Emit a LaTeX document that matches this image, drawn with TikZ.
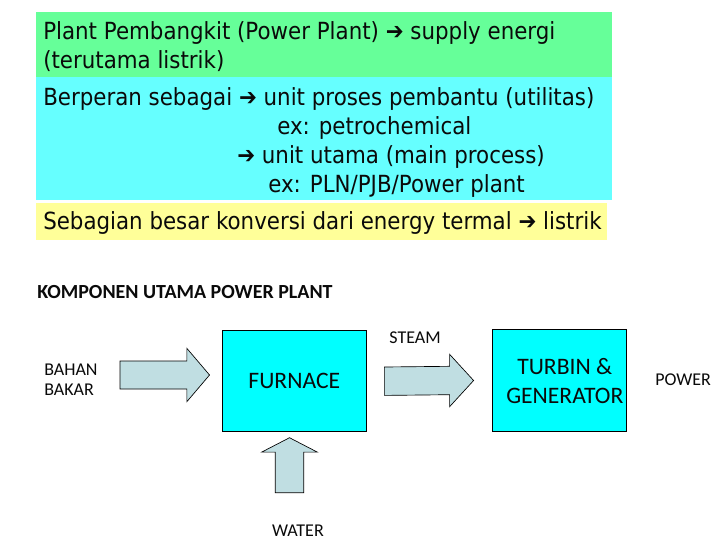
\documentclass[tikz,border=0pt]{standalone}
\usepackage{fontspec}
\usetikzlibrary{calc}
\setmainfont{Carlito}
\newfontfamily\tah[FakeStretch=0.905]{DejaVu Sans}
\definecolor{bandgreen}{RGB}{102,255,153}
\definecolor{bandcyan}{RGB}{102,255,255}
\definecolor{bandyellow}{RGB}{255,255,153}
\definecolor{boxcyan}{RGB}{0,255,255}
\definecolor{arrowfill}{RGB}{192,222,226}
\definecolor{txt}{RGB}{10,10,10}
\tikzset{
  band/.style={anchor=north west, inner sep=0pt, draw=none},
  topline/.style={anchor=base west, inner sep=0pt, font=\tah\fontsize{17.7}{20}\selectfont, text=txt},
  lbl/.style={inner sep=0pt, font=\fontsize{13.5}{15}\selectfont, text=txt},
  blockbox/.style={draw=black, line width=0.6pt, fill=boxcyan, inner sep=0pt, align=center, font=\fontsize{17.7}{21.8}\selectfont, text=txt},
  fatarrow/.style={draw=black, line width=0.5pt, fill=arrowfill, line join=miter}
}
\begin{document}
\begin{tikzpicture}[x=0.75pt,y=-0.75pt]
\useasboundingbox (0,0) rectangle (720,540);
\fill[white] (0,0) rectangle (720,540);
% bands
\node[band, fill=bandgreen, minimum width=432pt, minimum height=48.75pt] (gband) at (36,12) {};
\node[band, fill=bandcyan, minimum width=432pt, minimum height=92.25pt] (cband) at (36,77) {};
\node[band, fill=bandyellow, minimum width=428pt, minimum height=27.75pt] (yband) at (36,203) {};
% band texts
\node[topline] (t1) at (43,39) {Plant Pembangkit (Power Plant) ➔ supply energi};
\node[topline] (t2) at (43,68) {(terutama listrik)};
\node[topline] (t3) at (43,105) {Berperan sebagai ➔ unit proses pembantu (utilitas)};
\node[topline] (t4) at (277,134) {ex: petrochemical};
\node[topline] (t5) at (237,163) {➔ unit utama (main process)};
\node[topline] (t6) at (268,192) {ex: PLN/PJB/Power plant};
\node[topline] (t7) at (43,229) {Sebagian besar konversi dari energy termal ➔ listrik};
% heading
\node[anchor=base west, inner sep=0pt, font=\bfseries\fontsize{15}{18}\selectfont, text=txt] (head) at (37,298) {KOMPONEN UTAMA POWER PLANT};
% blocks
\node[blockbox, minimum width=107.5pt, minimum height=75.75pt] (furnace) at (294.3,381.2) {FURNACE};
\node[blockbox, minimum width=100.8pt, minimum height=76.8pt] (turbin) at (559.5,380.5) {};
\node[inner sep=0pt, align=center, font=\fontsize{17.7}{21.8}\selectfont, text=txt] (turbintxt) at (564.8,381.3) {TURBIN \&\\GENERATOR};
% labels
\node[lbl, anchor=west, align=left] (bahan) at (44,380) {BAHAN\\BAKAR};
\node[lbl] (steam) at (415,338) {STEAM};
\node[lbl, anchor=west] (power) at (655,380) {POWER};
\node[lbl] (water) at (298,531) {WATER};
% fat arrows
\coordinate (a1s) at (120,375);
\coordinate (a1t) at ($(furnace.west)+(-12.7,-6.2)$);
\draw[fatarrow] ($(a1s)+(0,-14)$) -- ($(a1t)+(-22.7,-14)$) -- ($(a1t)+(-22.7,-26.7)$) -- (a1t)
  -- ($(a1t)+(-22.7,26.7)$) -- ($(a1t)+(-22.7,14)$) -- ($(a1s)+(0,14)$) -- cycle;
\coordinate (a2s) at ($(furnace.east)+(18,0)$);
\coordinate (a2t) at ($(turbin.west)+(-18.3,0)$);
\draw[fatarrow] ($(a2s)+(0,-14.2)$) -- ($(a2t)+(-24,-14.2)$) -- ($(a2t)+(-24,-26.2)$) -- (a2t)
  -- ($(a2t)+(-24,26.2)$) -- ($(a2t)+(-24,14.2)$) -- ($(a2s)+(0,14.2)$) -- cycle;
\coordinate (a3t) at ($(furnace.south)+(-4.8,5.6)$);
\coordinate (a3s) at ($(a3t)+(0,55)$);
\draw[fatarrow] ($(a3s)+(-14.2,0)$) -- ($(a3t)+(-14.2,14.4)$) -- ($(a3t)+(-27.8,14.4)$) -- (a3t)
  -- ($(a3t)+(27.8,14.4)$) -- ($(a3t)+(14.2,14.4)$) -- ($(a3s)+(14.2,0)$) -- cycle;
\end{tikzpicture}
\end{document}
